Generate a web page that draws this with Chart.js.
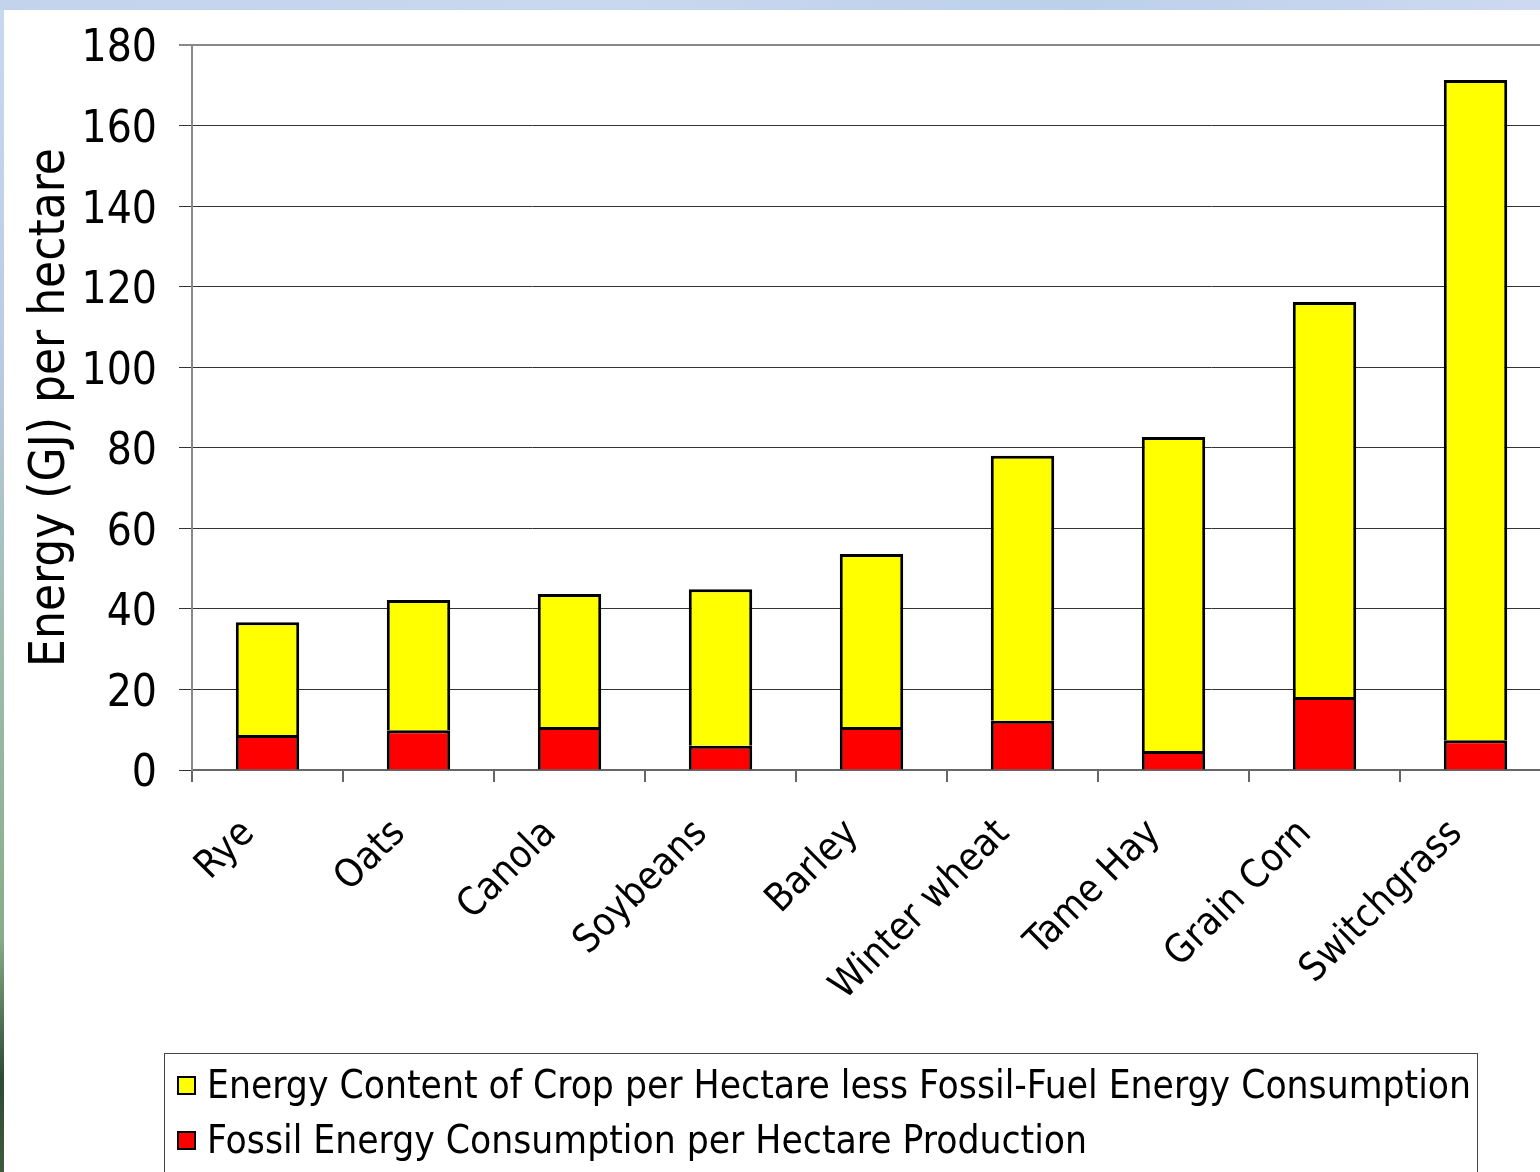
<!DOCTYPE html>
<html>
<head>
<meta charset="utf-8">
<title>Energy per hectare by crop</title>
<script src="https://cdn.jsdelivr.net/npm/chart.js@4"></script>
<style>
  html, body { margin: 0; padding: 0; width: 1540px; height: 1172px; overflow: hidden; }
  body {
    position: relative;
    background: linear-gradient(to bottom, #c9d8ee 0%, #b9cce4 30%, #9fbcae 55%, #88ad88 80%, #2d4a33 92%, #405a3c 100%);
  }
  #topStrip {
    position: absolute; left: 0; top: 0; width: 1540px; height: 10px;
    background: linear-gradient(to right, #c3d3ec, #c8d8ee 40%, #bcd0ea 70%, #cdd9f0);
  }
  #sheet { position: absolute; left: 4px; top: 10px; width: 1600px; height: 1200px; background: #fff; }
  #chart { position: absolute; left: 0; top: 0; }
</style>
</head>
<body>
<div id="topStrip"></div>
<div id="sheet"></div>
<canvas id="chart" width="1560" height="1172"></canvas>
<script>
const crops = ["Rye", "Oats", "Canola", "Soybeans", "Barley", "Winter wheat", "Tame Hay", "Grain Corn", "Switchgrass"];
const fossilUse = [8.7, 9.9, 10.7, 6.0, 10.7, 12.2, 4.7, 18.1, 7.4];
const netEnergy = [28.0, 32.3, 33.0, 38.9, 42.9, 65.8, 78.0, 98.1, 163.9];
const yTicks = [0, 20, 40, 60, 80, 100, 120, 140, 160, 180];

const FONT = "'DejaVu Sans Condensed', 'DejaVu Sans', Verdana, sans-serif";

// boxed legend under the axis labels, yellow series listed first
const boxedLegend = {
    id: "boxedLegend",
    afterDraw(chart) {
        const ctx = chart.ctx;
        const items = chart.data.datasets.slice().reverse();
        const left = 164, top = 1053, boxX = 178, textX = 207, rowH = 55, firstRow = 1085;
        ctx.save();
        ctx.font = "38.6px " + FONT;
        let maxW = 0;
        items.forEach(d => { maxW = Math.max(maxW, ctx.measureText(d.label).width); });
        ctx.strokeStyle = "#444";
        ctx.lineWidth = 1;
        ctx.strokeRect(left + 0.5, top + 0.5, textX + maxW + 6 - left, 200);
        items.forEach((d, i) => {
            const cy = firstRow + i * rowH;
            ctx.fillStyle = d.backgroundColor;
            ctx.fillRect(boxX, cy - 8, 17, 17);
            ctx.strokeStyle = "#000";
            ctx.lineWidth = 2;
            ctx.strokeRect(boxX, cy - 8, 17, 17);
            ctx.fillStyle = "#000";
            ctx.textBaseline = "middle";
            ctx.fillText(d.label, textX, cy + 3);
        });
        ctx.restore();
    }
};

new Chart(document.getElementById("chart"), {
    type: "bar",
    data: {
        labels: crops,
        datasets: [
            {
                label: "Fossil Energy Consumption per Hectare Production",
                data: fossilUse,
                backgroundColor: "#ff0000",
                borderColor: "#000",
                borderWidth: 3
            },
            {
                label: "Energy Content of Crop per Hectare less Fossil-Fuel Energy Consumption",
                data: netEnergy,
                backgroundColor: "#ffff00",
                borderColor: "#000",
                borderWidth: 3
            }
        ]
    },
    options: {
        responsive: false,
        animation: false,
        layout: { padding: { top: 45, right: 9, left: 0, bottom: 0 } },
        datasets: { bar: { categoryPercentage: 1, barPercentage: 0.42 } },
        plugins: {
            legend: { display: false },
            tooltip: { enabled: false }
        },
        scales: {
            x: {
                stacked: true,
                afterFit: s => { s.height = 402; },
                grid: {
                    offset: true,
                    drawOnChartArea: false,
                    tickLength: 12,
                    color: "#666",
                    lineWidth: 2
                },
                border: { color: "#666", width: 2 },
                ticks: {
                    minRotation: 45,
                    maxRotation: 45,
                    autoSkip: false,
                    padding: 29,
                    labelOffset: -19,
                    color: "#000",
                    font: { family: FONT, size: 39 }
                }
            },
            y: {
                stacked: true,
                min: 0,
                max: 180,
                afterFit: s => {
                    s.width = 192;
                    // let the layout padding alone decide where the plot starts
                    s.paddingTop = 0;
                    s.paddingBottom = 0;
                },
                afterBuildTicks: s => { s.ticks = yTicks.map(v => ({ value: v })); },
                grid: {
                    tickLength: 13,
                    color: c => (c.tick && c.tick.value === 180 ? "#888" : "#333"),
                    lineWidth: c => (c.tick && c.tick.value === 180 ? 2 : 1)
                },
                border: { color: "#888", width: 2 },
                ticks: {
                    padding: 22,
                    labelOffset: 5,
                    color: "#000",
                    font: { family: FONT, size: 44 }
                },
                title: {
                    display: true,
                    text: "Energy (GJ) per hectare",
                    color: "#000",
                    padding: { top: 22, bottom: 0 },
                    font: { family: FONT, size: 49 }
                }
            }
        }
    },
    plugins: [boxedLegend]
});
</script>
</body>
</html>
